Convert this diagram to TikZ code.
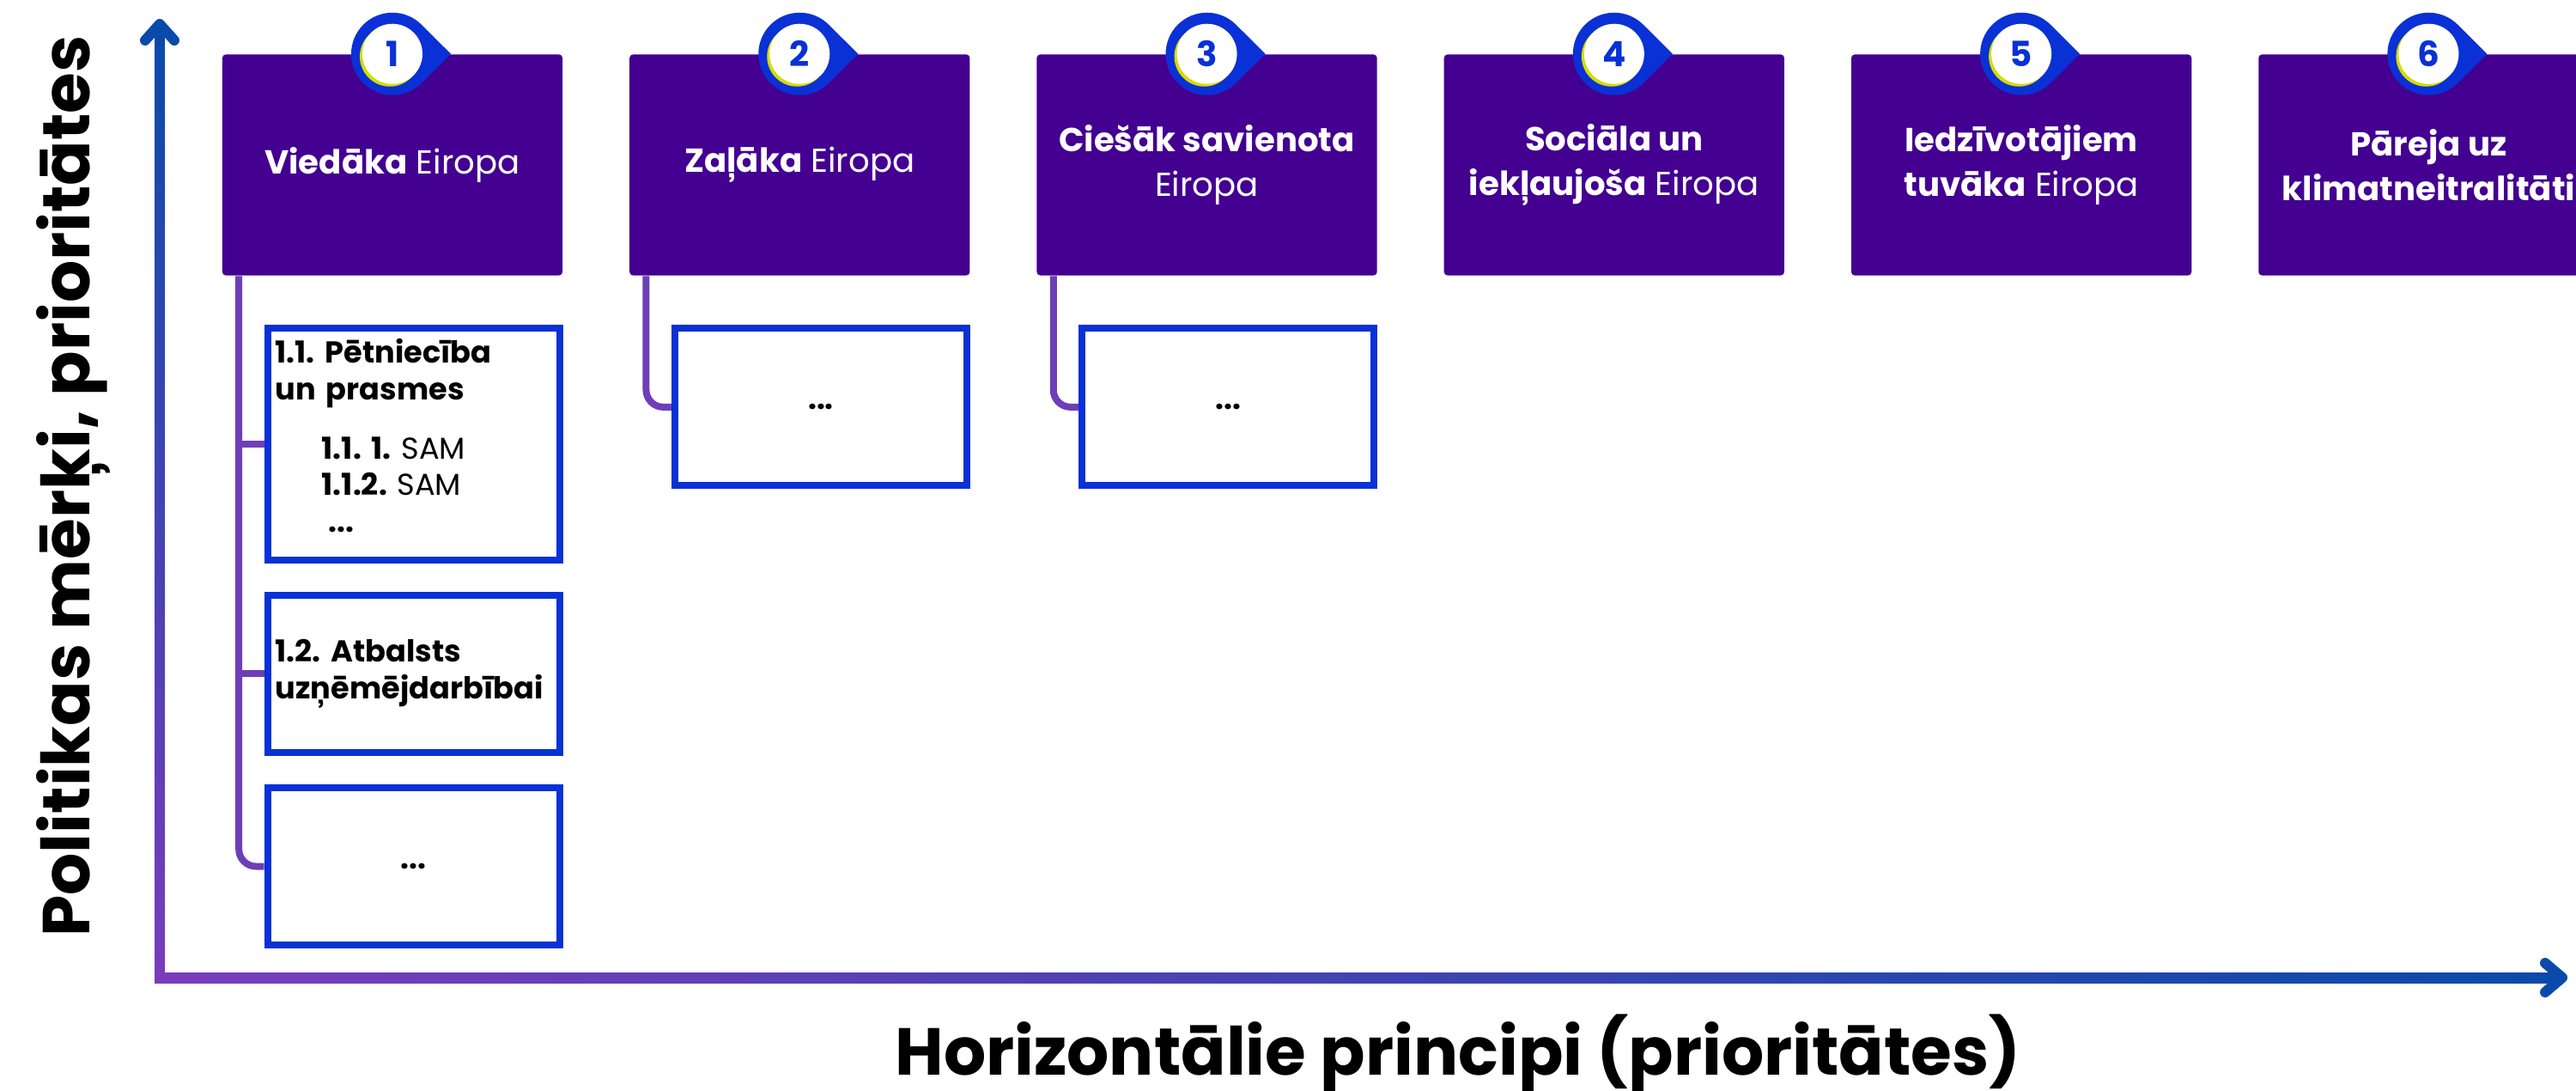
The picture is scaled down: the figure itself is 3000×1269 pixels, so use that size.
\documentclass[tikz,border=0pt]{standalone}
\usepackage{fontspec}
\setmainfont{Poppins}
\frenchspacing
\usetikzlibrary{positioning,calc}
\definecolor{goalfill}{HTML}{430091}
\definecolor{pinblue}{HTML}{0A31D5}
\definecolor{pinyellow}{HTML}{D4DC00}
\definecolor{axispurple}{HTML}{7A3CBC}
\definecolor{axisblue}{HTML}{0A4AAA}
\definecolor{linkpurple}{HTML}{6E3EB8}
\tikzstyle{goal} = [rectangle, fill=goalfill, rounded corners=0.04cm, text=white, align=center, minimum width=3.96cm, minimum height=2.57cm, font=\fontsize{11}{14.8}\selectfont]
\tikzstyle{sub} = [rectangle, draw=pinblue, line width=0.08cm, fill=white, minimum width=3.4cm, minimum height=1.83cm, font=\fontsize{10}{12.2}\selectfont]
\tikzstyle{link} = [draw=linkpurple, line width=0.08cm]
\tikzstyle{axistip} = [draw=axisblue, line width=0.12cm, line cap=round, line join=round]
\tikzstyle{axislabel} = [font=\bfseries\fontsize{22}{26}\selectfont]

\begin{document}
\begin{tikzpicture}[x=0.01cm, y=-0.01cm, node distance=4.74cm]
	\useasboundingbox (0,0) rectangle (3000,1269);
	\clip (0,0) rectangle (3000,1269);
	% axes
	\coordinate (origin) at (186,1138);
	\coordinate (ytip) at (186,28);
	\coordinate (xtip) at (2984,1138);
	\shade[bottom color=axispurple, top color=axisblue] ($(origin)+(-6,6)$) rectangle ($(ytip)+(6,0)$);
	\shade[left color=axispurple, right color=axisblue] ($(origin)+(-6,6)$) rectangle ($(xtip)+(0,-6)$);
	\draw[axistip] ($(ytip)+(-17,19)$) -- (ytip) -- ($(ytip)+(17,19)$);
	\draw[axistip] ($(xtip)+(-20,-17)$) -- (xtip) -- ($(xtip)+(-20,17)$);
	\node[axislabel, rotate=90] (ylab) at (86,566) {Politikas mērķi, prioritātes};
	\node[axislabel] (xlab) at (1698,1226) {Horizontālie principi (prioritātes)};
	% policy goals
	\node [goal] (g1) at (457,192) {\textbf{Viedāka} Eiropa};
	\node [goal, right of=g1] (g2) {\textbf{Zaļāka} Eiropa};
	\node [goal, right of=g2] (g3) {\textbf{Ciešāk savienota}\\Eiropa};
	\node [goal, right of=g3] (g4) {\textbf{Sociāla un}\\\textbf{iekļaujoša} Eiropa};
	\node [goal, right of=g4] (g5) {\textbf{Iedzīvotājiem}\\\textbf{tuvāka} Eiropa};
	\node [goal, right of=g5] (g6) {\textbf{Pāreja uz}\\\textbf{klimatneitralitāti}};
	\foreach \i in {1,...,6} {
		\fill[pinblue] ($(g\i.north)+(45:48)$) -- ($(g\i.north)+(68,0)$) -- ($(g\i.north)+(-45:48)$) arc[start angle=-45, end angle=-315, radius=48] -- cycle;
		\fill[pinyellow] ($(g\i.north)+(-3,3)$) circle[radius=35];
		\node[circle, fill=white, minimum size=0.7cm, inner sep=0pt, text=pinblue, font=\bfseries\fontsize{11.5}{12}\selectfont] (n\i) at (g\i.north) {\i};
	}
	% specific objectives
	\node [sub, below left=0.57cm and 0cm of g1.south east, minimum height=2.67cm, text width=3.22cm, inner xsep=0.09cm, align=left] (s11) {\textbf{1.1. Pētniecība}\\\textbf{un prasmes}\\[0.26cm]
		\hspace*{0.54cm}\textbf{1.1. 1.} SAM\\
		\hspace*{0.54cm}\textbf{1.1.2.} SAM\\
		\hspace*{0.62cm}\textbf{...}\par\vspace{0.2cm}\hrule height 0pt};
	\node [sub, below=0.33cm of s11, text width=3.22cm, inner xsep=0.09cm, align=left] (s12) {\textbf{1.2. Atbalsts}\\\textbf{uzņēmējdarbībai}};
	\node [sub, below=0.33cm of s12] (s13) {\textbf{...}};
	\node [sub, below left=0.57cm and 0cm of g2.south east] (s21) {\textbf{...}};
	\node [sub, below left=0.57cm and 0cm of g3.south east] (s31) {\textbf{...}};
	% links
	\coordinate (t1) at ([xshift=0.2cm]g1.south west);
	\coordinate (t2) at ([xshift=0.2cm]g2.south west);
	\coordinate (t3) at ([xshift=0.2cm]g3.south west);
	\draw[link, rounded corners=0.2cm] (t1) |- (s13.west);
	\draw[link] (t1 |- s11.west) -- (s11.west);
	\draw[link] (t1 |- s12.west) -- (s12.west);
	\draw[link, rounded corners=0.2cm] (t2) |- (s21.west);
	\draw[link, rounded corners=0.2cm] (t3) |- (s31.west);
\end{tikzpicture}
\end{document}
